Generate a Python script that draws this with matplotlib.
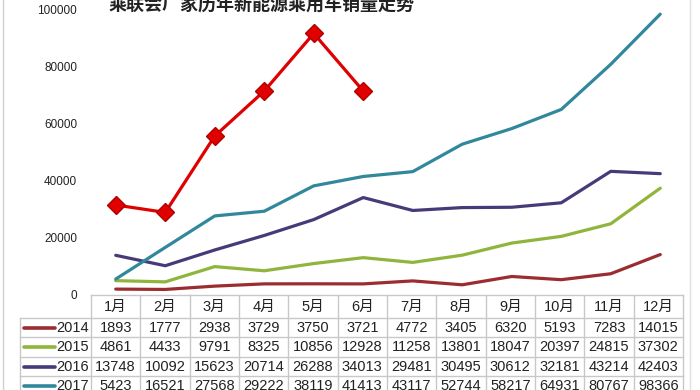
import matplotlib
matplotlib.use("Agg")
import matplotlib.pyplot as plt
from matplotlib.lines import Line2D

plt.rcParams['font.family'] = ['Liberation Sans', 'Noto Sans CJK SC', 'DejaVu Sans']

title = "乘联会厂家历年新能源乘用车销量走势"
months = ["1月", "2月", "3月", "4月", "5月", "6月", "7月", "8月", "9月", "10月", "11月", "12月"]
years = ["2014", "2015", "2016", "2017"]
s2014 = [1893, 1777, 2938, 3729, 3750, 3721, 4772, 3405, 6320, 5193, 7283, 14015]
s2015 = [4861, 4433, 9791, 8325, 10856, 12928, 11258, 13801, 18047, 20397, 24815, 37302]
s2016 = [13748, 10092, 15623, 20714, 26288, 34013, 29481, 30495, 30612, 32181, 43214, 42403]
s2017 = [5423, 16521, 27568, 29222, 38119, 41413, 43117, 52744, 58217, 64931, 80767, 98366]
s2018 = [31400, 28800, 55600, 71400, 91600, 71400]
yticks = [0, 20000, 40000, 60000, 80000, 100000]

series = [s2014, s2015, s2016, s2017]
colors = ["#9B2D30", "#8FB53C", "#483A78", "#31879C"]
red = "#E00000"

W, H = 700, 390
fig = plt.figure(figsize=(7, 3.9), dpi=100)

# main plot axes
ax_l, ax_r, ax_t, ax_b = 91, 685, 9.5, 294.5
ax = fig.add_axes([ax_l / W, 1 - ax_b / H, (ax_r - ax_l) / W, (ax_b - ax_t) / H])
x = list(range(1, 13))
for s, c in zip(series, colors):
    ax.plot(x, s, color=c, lw=2.3, solid_capstyle='round', zorder=2)
ax.plot(x[:len(s2018)], s2018, color=red, lw=2.3, marker='D', ms=9,
        mfc=red, mec="#B00000", mew=1, zorder=3)
ax.set_xlim(0.5, 12.5)
ax.set_ylim(0, 100000)
ax.set_yticks(yticks)
ax.set_yticklabels([str(v) for v in yticks], fontsize=8.5, color="#222222")
ax.tick_params(axis='y', length=0, pad=10)
ax.set_xticks([])
for sp in ax.spines.values():
    sp.set_visible(False)
ax.patch.set_alpha(0)

# overlay in pixel coords
ov = fig.add_axes([0, 0, 1, 1], zorder=-1)
ov.set_xlim(0, W)
ov.set_ylim(H, 0)
ov.axis('off')

ov.text(262, 5, title, ha='center', va='center', fontsize=13, fontweight='bold',
        color="#222222", family=['Noto Sans CJK SC'])

# borders of chart area
grid_c = "#C8C8C8"
ov.add_line(Line2D([3, 3], [0, H], color="#D0D0D0", lw=1))
ov.add_line(Line2D([690, 690], [0, H], color="#E0E0E0", lw=1))

# table
col_l, col_r = 91, 683
ncol = len(months)
cw = (col_r - col_l) / ncol
head_t, head_b = 295, 318
rh = 19.3
lab_l = 20
rows_y = [head_b + i * rh for i in range(len(years) + 1)]

ov.add_line(Line2D([col_l, col_r], [head_t, head_t], color=grid_c, lw=1))
for i in range(ncol + 1):
    xx = col_l + i * cw
    ov.add_line(Line2D([xx, xx], [head_t, H], color=grid_c, lw=1))
ov.add_line(Line2D([lab_l, lab_l], [head_b, H], color=grid_c, lw=1))
for yy in rows_y:
    ov.add_line(Line2D([lab_l, col_r], [yy, yy], color=grid_c, lw=1))

for i, m in enumerate(months):
    ov.text(col_l + (i + 0.5) * cw, (head_t + head_b) / 2 + 0.5, m, ha='center', va='center',
            fontsize=10.5, color="#222222")

for r, (yr, s, c) in enumerate(zip(years, series, colors)):
    yc = rows_y[r] + rh / 2 + 0.5
    ov.add_line(Line2D([24, 55], [yc, yc], color=c, lw=2.6, solid_capstyle='round'))
    ov.text(89, yc, yr, ha='right', va='center', fontsize=10.5, color="#222222")
    for i, v in enumerate(s):
        ov.text(col_l + (i + 0.5) * cw, yc, str(v), ha='center', va='center',
                fontsize=10.5, color="#222222")

fig.savefig("out.png", dpi=100)
